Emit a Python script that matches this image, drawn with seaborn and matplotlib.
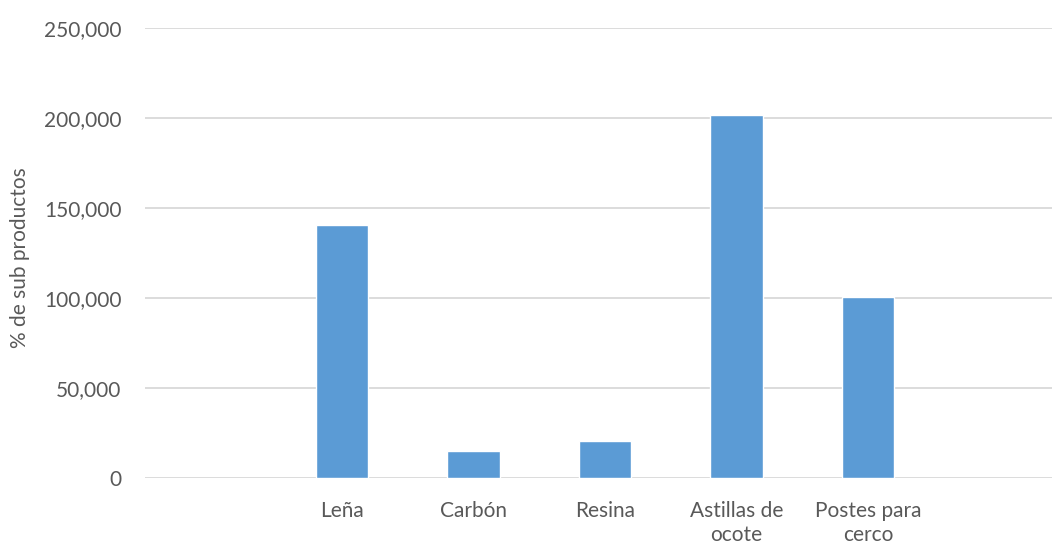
"""Sub-product bar chart."""

import matplotlib
matplotlib.use('Agg')
import matplotlib.pyplot as plt
from matplotlib.ticker import FuncFormatter, MultipleLocator
import pandas as pd
import seaborn as sns

# Categories as they appear on the axis (first and last slots are empty)
categories = ['Leña', 'Carbón', 'Resina', 'Astillas de\nocote', 'Postes para\ncerco']
slots = [''] + categories + [' ']
values = [140500, 14700, 20200, 201500, 100500]

df = pd.DataFrame({'producto': categories, 'valor': values})

sns.set_theme(style='white')
plt.rcParams['font.family'] = ['Lato', 'DejaVu Sans']

fig = plt.figure(figsize=(10.52, 5.45), dpi=100)
ax = fig.add_axes([145 / 1052, 67.3 / 545, 1 - 145 / 1052, 449.9 / 545])

sns.barplot(data=df, x='producto', y='valor', order=slots, color='#5B9BD5',
            width=0.4, saturation=1, ax=ax)

ax.set_ylim(0, 250000)
ax.set_xlim(-0.5, 6.4)
ax.yaxis.set_major_locator(MultipleLocator(50000))
ax.yaxis.set_major_formatter(FuncFormatter(lambda v, _: f'{v:,.0f}'))
ax.grid(axis='y', color='#D9D9D9', linewidth=1.3)
ax.set_axisbelow(True)
for s in ax.spines.values():
    s.set_visible(False)

ax.tick_params(axis='both', length=0, labelsize=15, labelcolor='#595959')
ax.tick_params(axis='y', pad=17)
ax.tick_params(axis='x', pad=17)
for lbl in ax.get_xticklabels():
    lbl.set_linespacing(1.25)

ax.set_xlabel('')
ax.set_ylabel('% de sub productos', fontsize=15, color='#595959')
ax.yaxis.set_label_coords(-0.127, 0.49)

plt.savefig('out.png', dpi=100)
print('Saved: out.png')
